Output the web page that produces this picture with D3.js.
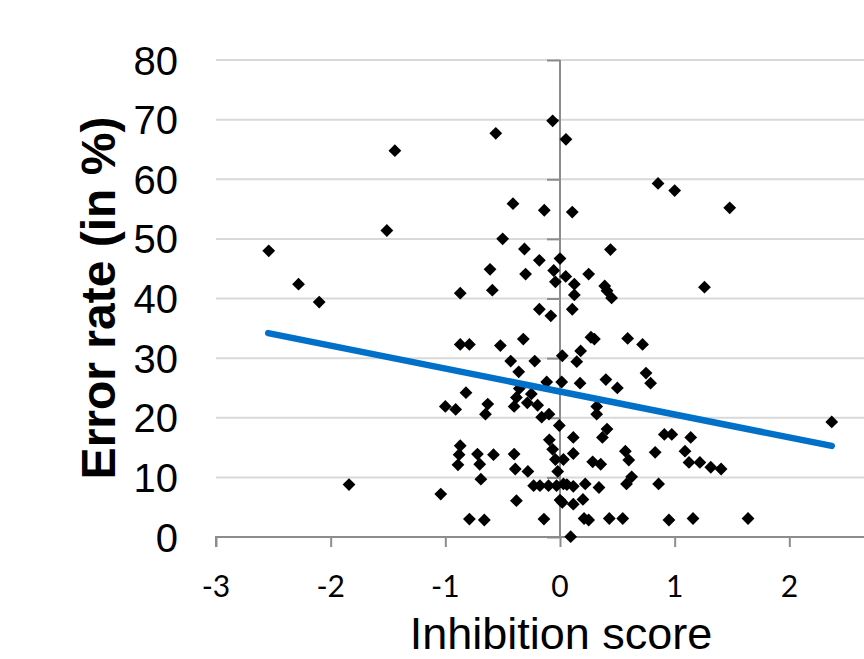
<!DOCTYPE html>
<html>
<head>
<meta charset="utf-8">
<script src="https://cdn.jsdelivr.net/npm/d3@7"></script>
<style>
  html, body { margin: 0; padding: 0; background: #fff; }
  svg { display: block; }
</style>
</head>
<body>
<svg id="chart" width="864" height="659"></svg>
<script>
// ---- data ----
const inhibitionScore = [
  -2.54, -2.28, -2.10, -1.51, -1.44, -1.84, -0.56, -0.064, 0.052, -0.41,
  -0.137, 0.107, -0.50, -0.31, 0.44, -0.18, 0.0, -0.61, -0.30, -0.055,
  0.05, 0.25, -0.04, 0.125, -0.87, -0.59, 0.125, 0.39, 0.41, 0.45,
  0.855, 1.0, 1.48, 1.26, -0.18, -0.08, 0.107, -0.87, -0.79, -0.52,
  -0.32, 0.27, 0.30, 0.18, 0.02, 0.146, -0.43, -0.22, -0.36, 0.015,
  0.175, 0.40, 0.50, -0.116, -0.355, -0.25, -0.82, -0.38, -1.0, -0.91,
  -0.63, -0.65, -0.40, -0.285, -0.195, -0.16, -0.096, 0.32, 0.32, -0.006,
  0.41, 0.37, 0.116, -0.093, -0.064, -0.87, -0.88, -0.89, -0.72, -0.70,
  -0.58, -0.40, -0.39, -0.28, -0.04, 0.03, 0.116, -0.02, 0.285, 0.355,
  -0.69, -1.04, -0.23, -0.175, -0.10, -0.03, 0.03, 0.06, 0.116, 0.22,
  0.34, -0.38, 0.0, 0.02, 0.116, 0.2, -0.79, -0.66, -0.14, 0.21,
  0.25, 0.43, 0.093, 0.59, 0.72, 0.75, 0.79, 2.37, 0.91, 0.975,
  1.14, 0.83, 0.57, 0.60, 1.09, 1.125, 1.22, 1.315, 1.405, 0.625,
  0.58, 0.86, 0.547, 0.95, 1.16, 1.64
];
const errorRate = [
  48.0, 42.4, 39.4, 51.4, 64.8, 8.8, 67.7, 69.8, 66.7, 55.9,
  54.8, 54.5, 50.0, 48.3, 48.2, 46.4, 46.7, 44.9, 44.1, 44.7,
  43.7, 44.1, 42.8, 42.4, 40.9, 41.4, 40.6, 42.1, 41.3, 40.1,
  59.3, 58.1, 55.2, 41.9, 38.2, 37.1, 38.2, 32.3, 32.3, 32.1,
  33.2, 33.5, 33.2, 31.2, 30.4, 29.4, 29.5, 29.5, 27.7, 26.0,
  25.8, 26.4, 25.0, 26.0, 24.9, 24.0, 24.2, 23.4, 21.9, 21.4,
  22.3, 20.6, 21.9, 22.5, 22.1, 20.1, 20.6, 21.9, 20.6, 18.7,
  18.1, 16.7, 16.7, 16.3, 14.7, 15.3, 13.8, 12.1, 13.9, 12.2,
  13.8, 13.9, 11.4, 11.0, 13.0, 13.0, 14.0, 11.0, 12.6, 12.2,
  9.7, 7.2, 8.6, 8.6, 8.6, 8.6, 8.9, 8.8, 8.5, 8.9,
  8.3, 6.1, 6.2, 5.8, 5.5, 6.3, 3.0, 2.85, 3.0, 3.1,
  2.85, 3.1, 0.05, 33.3, 32.3, 27.5, 25.8, 19.3, 17.2, 17.2,
  16.7, 14.2, 14.4, 12.9, 14.4, 12.5, 12.5, 11.7, 11.4, 10.1,
  8.9, 8.9, 3.1, 2.85, 3.1, 3.1
];
// linear trend line
const trendSlope = -3.85;
const trendIntercept = 24.4;
const trendRange = [-2.545, 2.37];

const xTicks = [-3, -2, -1, 0, 1, 2, 3];
const xTickLabels = [-3, -2, -1, 0, 1, 2];   // "3" falls outside the visible area
const yTicks = [0, 10, 20, 30, 40, 50, 60, 70, 80];
const xTitle = "Inhibition score";
const yTitle = "Error rate (in %)";

// ---- drawing ----
const svg = d3.select("#chart");
const x = d3.scaleLinear().domain([-3, 3]).range([216, 904]);
const y = d3.scaleLinear().domain([0, 80]).range([537, 60]);

// gridlines
svg.append("g").selectAll("line")
  .data(yTicks.filter(d => d > 0))
  .join("line")
  .attr("x1", x(-3)).attr("x2", x(3))
  .attr("y1", d => y(d)).attr("y2", d => y(d))
  .attr("stroke", "#d9d9d9").attr("stroke-width", 2);

// x axis at y = 0
const xAxis = d3.axisBottom(x).tickValues(xTicks).tickSize(10).tickFormat("");
const gx = svg.append("g").attr("transform", `translate(0,${y(0)})`).call(xAxis);
gx.select(".domain").attr("stroke", "#8c8c8c").attr("stroke-width", 2)
  .attr("d", `M${x(-3)},10V0H${x(3)}`);
gx.selectAll(".tick line").attr("stroke", "#8c8c8c").attr("stroke-width", 2);

// y axis at x = 0
const yAxis = d3.axisLeft(y).tickValues(yTicks).tickSize(13).tickFormat("");
const gy = svg.append("g").attr("transform", `translate(${x(0)},0)`).call(yAxis);
gy.select(".domain").attr("stroke", "#8c8c8c").attr("stroke-width", 2)
  .attr("d", `M0,${y(80)}V${y(0)}`);
gy.selectAll(".tick line").attr("stroke", "#8c8c8c").attr("stroke-width", 2);

// y tick labels (left side)
svg.append("g").selectAll("text")
  .data(yTicks)
  .join("text")
  .attr("x", 178)
  .attr("y", d => y(d) + 14.5)
  .attr("text-anchor", "end")
  .attr("font-family", "'Liberation Sans', Arial, sans-serif")
  .attr("font-size", 40)
  .attr("fill", "#000")
  .text(d => d);

// x tick labels (below)
svg.append("g").selectAll("text")
  .data(xTickLabels)
  .join("text")
  .attr("x", d => x(d))
  .attr("y", 597)
  .attr("text-anchor", "middle")
  .attr("font-family", "Lato, 'DejaVu Sans Condensed', sans-serif")
  .attr("font-size", 30)
  .attr("fill", "#000")
  .text(d => d);

// points
const pts = inhibitionScore.map((v, i) => [v, errorRate[i]]);
const diamond = d3.symbol().type(d3.symbolSquare).size(82);
svg.append("g").selectAll("path")
  .data(pts)
  .join("path")
  .attr("d", diamond)
  .attr("transform", d => `translate(${x(d[0])},${y(d[1])}) rotate(45)`)
  .attr("fill", "#000");

// trend line
const line = d3.line().x(d => x(d)).y(d => y(trendIntercept + trendSlope * d));
svg.append("path")
  .datum(trendRange)
  .attr("d", line)
  .attr("fill", "none")
  .attr("stroke", "#0070c8")
  .attr("stroke-width", 6.5)
  .attr("stroke-linecap", "round");

// axis titles
svg.append("text")
  .attr("x", 561).attr("y", 649)
  .attr("text-anchor", "middle")
  .attr("font-family", "'Liberation Sans', Arial, sans-serif")
  .attr("font-size", 45)
  .attr("fill", "#000")
  .text(xTitle);

svg.append("text")
  .attr("transform", "translate(115,298) rotate(-90)")
  .attr("text-anchor", "middle")
  .attr("font-family", "'Liberation Sans', Arial, sans-serif")
  .attr("font-weight", "bold")
  .attr("font-size", 48)
  .attr("fill", "#000")
  .text(yTitle);
</script>
</body>
</html>
